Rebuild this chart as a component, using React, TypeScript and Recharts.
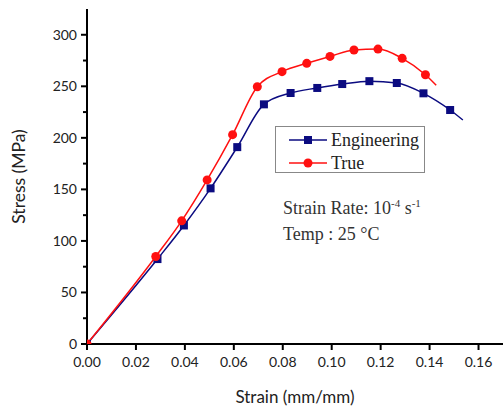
import { Label, Line, LineChart, XAxis, YAxis } from 'recharts';

const engStrain = [0, 0.0288, 0.0396, 0.0505, 0.0614, 0.0723, 0.0832, 0.0941, 0.1043, 0.1154, 0.1266, 0.1375, 0.1484, 0.1536];
const engStress = [0, 82.4, 115, 151, 191, 232.5, 243.5, 248.4, 252.2, 255, 253.2, 243.2, 227, 217.3];
const trueStrain = [0, 0.0281, 0.0387, 0.0491, 0.0595, 0.0696, 0.0797, 0.0898, 0.0993, 0.1091, 0.1189, 0.1288, 0.1383, 0.1427];
const trueStress = [0, 84.9, 119.5, 159.2, 203.1, 249.6, 264.2, 272.3, 279, 285.2, 286.1, 277.1, 261.2, 251];

const yTicks = [0, 25, 50, 75, 100, 125, 150, 175, 200, 225, 250, 275, 300];
const xTicks = [0, 0.01, 0.02, 0.03, 0.04, 0.05, 0.06, 0.07, 0.08, 0.09, 0.1, 0.11, 0.12, 0.13, 0.14, 0.15, 0.16];

const engData = engStrain.map((x, i) => ({ x, y: engStress[i] }));
const trueData = trueStrain.map((x, i) => ({ x, y: trueStress[i] }));

const NAVY = '#0b0b80';
const RED = '#ff1010';
const sans = 'Lato, "Open Sans", sans-serif';
const serif = '"Liberation Serif", serif';

function YTick({ x, y, payload }: any) {
  const major = payload.value % 50 === 0;
  return (
    <g>
      <line x1={x} x2={x - (major ? 6 : 4)} y1={y} y2={y} stroke="#000" strokeWidth={2} />
      {major && (
        <text x={x - 10} y={y} dy={5} textAnchor="end" fontSize={14} fontFamily={sans} fill="#222">
          {payload.value}
        </text>
      )}
    </g>
  );
}

function XTick({ x, y, payload }: any) {
  const major = Math.round(payload.value * 100) % 2 === 0;
  return (
    <g>
      <line x1={x} x2={x} y1={y} y2={y + (major ? 6 : 4)} stroke="#000" strokeWidth={2} />
      {major && (
        <text x={x} y={y + 23} textAnchor="middle" fontSize={14} fontFamily={sans} fill="#222">
          {payload.value.toFixed(2)}
        </text>
      )}
    </g>
  );
}

function makeDot(kind: 'square' | 'circle', color: string, last: number) {
  return (props: any) => {
    const { cx, cy, index } = props;
    if (index === last) return <g key={`d${kind}${index}`} />;
    if (kind === 'square')
      return <rect key={`d${kind}${index}`} x={cx - 4} y={cy - 4} width={8} height={8} fill={color} />;
    return <circle key={`d${kind}${index}`} cx={cx} cy={cy} r={4.5} fill={color} />;
  };
}

export default function App() {
  return (
    <div style={{ position: 'absolute', left: 0, top: 0, width: 503, height: 409, background: '#fff' }}>
      <LineChart width={503} height={409} margin={{ top: 9, right: 0, bottom: 0, left: 0 }}>
        <XAxis
          type="number"
          dataKey="x"
          domain={[0, 0.17]}
          ticks={xTicks}
          height={65}
          tickSize={0}
          tickMargin={0}
          tickLine={false}
          tick={<XTick />}
          axisLine={{ stroke: '#000', strokeWidth: 2 }}
          allowDataOverflow
        >
          <Label value="Strain (mm/mm)" position="insideBottom" offset={6} fontSize={17} fontFamily={sans} fill="#222" />
        </XAxis>
        <YAxis
          type="number"
          dataKey="y"
          domain={[0, 325]}
          ticks={yTicks}
          width={87}
          tickSize={0}
          tickMargin={0}
          tickLine={false}
          tick={<YTick />}
          axisLine={{ stroke: '#000', strokeWidth: 2 }}
          allowDataOverflow
        >
          <Label value="Stress (MPa)" angle={-90} position="insideLeft" offset={19} fontSize={17.5} fontFamily={sans} fill="#222" style={{ textAnchor: 'middle' }} />
        </YAxis>
        <Line
          data={engData}
          dataKey="y"
          type="monotone"
          stroke={NAVY}
          strokeWidth={1.5}
          dot={makeDot('square', NAVY, engData.length - 1)}
          activeDot={false}
          isAnimationActive={false}
        />
        <Line
          data={trueData}
          dataKey="y"
          type="monotone"
          stroke={RED}
          strokeWidth={1.5}
          dot={makeDot('circle', RED, trueData.length - 1)}
          activeDot={false}
          isAnimationActive={false}
        />
      </LineChart>

      <div
        style={{
          position: 'absolute',
          left: 275,
          top: 126,
          width: 150,
          height: 47,
          border: '1px solid #888',
          boxSizing: 'border-box',
          fontFamily: serif,
          fontSize: 18,
          color: '#222',
        }}
      >
        <div style={{ position: 'absolute', left: 13, top: 2, display: 'flex', alignItems: 'center', height: 22 }}>
          <svg width={38} height={12}>
            <line x1={0} x2={38} y1={6} y2={6} stroke={NAVY} strokeWidth={1.5} />
            <rect x={15} y={2} width={8} height={8} fill={NAVY} />
          </svg>
          <span style={{ marginLeft: 4 }}>Engineering</span>
        </div>
        <div style={{ position: 'absolute', left: 13, top: 25, display: 'flex', alignItems: 'center', height: 22 }}>
          <svg width={38} height={12}>
            <line x1={0} x2={38} y1={6} y2={6} stroke={RED} strokeWidth={1.5} />
            <circle cx={19} cy={6} r={4.5} fill={RED} />
          </svg>
          <span style={{ marginLeft: 4 }}>True</span>
        </div>
      </div>

      <svg style={{ position: 'absolute', left: 0, top: 0, pointerEvents: 'none' }} width={503} height={409}>
        <text x={283} y={214} fontFamily={serif} fontSize={18} fill="#333">
          Strain Rate: 10
          <tspan dy={-7} fontSize={11}>-4</tspan>
          <tspan dy={7}> s</tspan>
          <tspan dy={-7} fontSize={11}>-1</tspan>
        </text>
        <text x={283} y={240} fontFamily={serif} fontSize={18} fill="#333">
          Temp : 25 °C
        </text>
      </svg>
    </div>
  );
}
